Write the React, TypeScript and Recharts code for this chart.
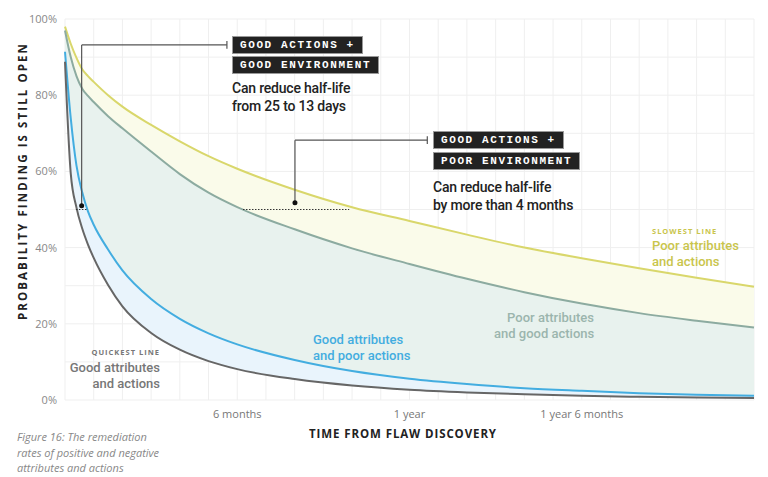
import React from "react";
import {
  ComposedChart, Area, Line, XAxis, YAxis, CartesianGrid,
  ReferenceLine, ReferenceDot,
} from "recharts";

// months since discovery
const MONTHS = [0, 0.2, 0.4, 0.6, 0.8, 1, 1.5, 2, 3, 4, 5, 6, 8, 10, 12, 14, 16, 18, 20, 22, 24];
// % of findings still open
const POOR_ALL  = [98, 93.5, 89.8, 86.8, 85, 83.5, 80, 77, 72.2, 67.9, 64, 60.7, 55.2, 50.6, 47, 43.4, 40, 37.2, 34.6, 32.1, 29.7];
const POOR_GOOD = [97, 90, 85, 81.7, 79.8, 78.2, 74.5, 71.3, 65.2, 59.3, 54.4, 50.6, 44.8, 39.8, 35.7, 31.8, 28.3, 25.3, 22.8, 20.8, 19];
const GOOD_POOR = [91.4, 74, 61.5, 54.5, 49.5, 46, 39.5, 34, 26.5, 21.3, 17.5, 14.6, 10.5, 7.6, 5.6, 4.2, 3.1, 2.4, 1.8, 1.4, 1.1];
const GOOD_ALL  = [88.8, 59.5, 50.5, 45, 40.8, 37.3, 30.2, 24.6, 17.6, 13.2, 10.2, 8.1, 5.5, 3.8, 2.7, 2, 1.5, 1.1, 0.85, 0.65, 0.5];

const X_TICKS = Array.from({ length: 25 }, (_, i) => i);
const X_LABELS: Record<number, string> = { 6: "6 months", 12: "1 year", 18: "1 year 6 months" };
const Y_TICKS = [0, 10, 20, 30, 40, 50, 60, 70, 80, 90, 100];

const YELLOW = "#d9d76b";
const GREEN  = "#8caba0";
const BLUE   = "#43ade0";
const GRAY   = "#666666";
const SANS   = "'Open Sans', 'Noto Sans', sans-serif";
const LABEL  = "Roboto, 'Open Sans', sans-serif";
const MONO   = "'Liberation Mono', 'DejaVu Sans Mono', monospace";

const data = MONTHS.map((m, i) => ({
  m,
  yellow: POOR_ALL[i],
  green: POOR_GOOD[i],
  blue: GOOD_POOR[i],
  gray: GOOD_ALL[i],
  bandY: [POOR_GOOD[i], POOR_ALL[i]],
  bandG: [GOOD_POOR[i], POOR_GOOD[i]],
  bandB: [GOOD_ALL[i], GOOD_POOR[i]],
}));

function Tag({ text, x, y }: { text: string; x: number; y: number }) {
  return (
    <div style={{
      position: "absolute", left: x, top: y, background: "#222", color: "#fff",
      fontFamily: MONO, fontWeight: 700, fontSize: 11, letterSpacing: 1.6,
      padding: "1px 7px", lineHeight: "14px", border: "1px solid #999", whiteSpace: "nowrap",
    }}>{text}</div>
  );
}

function Txt({ x, y, children, style }: { x: number; y: number; children: React.ReactNode; style?: React.CSSProperties }) {
  return (
    <div style={{ position: "absolute", left: x, top: y, fontFamily: LABEL, whiteSpace: "nowrap", ...style }}>
      {children}
    </div>
  );
}

const lbl: React.CSSProperties = { fontSize: 13, fontWeight: 500, lineHeight: "15.5px" };
const note: React.CSSProperties = { fontSize: 14, fontWeight: 500, lineHeight: "18px", letterSpacing: -0.2, color: "#222" };
const small: React.CSSProperties = { fontFamily: SANS, fontSize: 7.5, fontWeight: 700, letterSpacing: 1, lineHeight: "10px" };

export default function App() {
  return (
    <div style={{ position: "absolute", left: 0, top: 0, width: 768, height: 477, background: "#fff", overflow: "hidden" }}>
      <ComposedChart width={768} height={477} data={data}
        margin={{ top: 19, right: 14, bottom: 57, left: 0 }}>
        <CartesianGrid stroke="#efefef" strokeWidth={1} />
        <XAxis dataKey="m" type="number" domain={[0, 24]} ticks={X_TICKS} interval={0}
          tickLine={false} axisLine={false} height={20}
          tick={{ fontSize: 11, fill: "#777", fontFamily: SANS, dy: 2 }}
          tickFormatter={(v: number) => X_LABELS[v] ?? ""} />
        <YAxis type="number" domain={[0, 100]} ticks={Y_TICKS} interval={0} width={65}
          tickLine={false} axisLine={false}
          tick={{ fontSize: 11, fill: "#888", fontFamily: SANS }}
          tickFormatter={(v: number) => (v % 20 === 0 ? `${v}%` : "")} />
        <Area type="monotone" dataKey="bandY" stroke="none" fill="#fafbea" fillOpacity={1} isAnimationActive={false} />
        <Area type="monotone" dataKey="bandG" stroke="none" fill="#e8f2ee" fillOpacity={1} isAnimationActive={false} />
        <Area type="monotone" dataKey="bandB" stroke="none" fill="#e9f4fc" fillOpacity={1} isAnimationActive={false} />
        <Line type="monotone" dataKey="yellow" stroke={YELLOW} strokeWidth={2} dot={false} isAnimationActive={false} />
        <Line type="monotone" dataKey="green" stroke={GREEN} strokeWidth={2} dot={false} isAnimationActive={false} />
        <Line type="monotone" dataKey="blue" stroke={BLUE} strokeWidth={2} dot={false} isAnimationActive={false} />
        <Line type="monotone" dataKey="gray" stroke={GRAY} strokeWidth={2} dot={false} isAnimationActive={false} />

        {/* half-life markers */}
        <ReferenceLine segment={[{ x: 0.38, y: 50 }, { x: 0.8, y: 50 }]} stroke="#333" strokeDasharray="1.5 1.5" strokeWidth={1} />
        <ReferenceLine segment={[{ x: 6.2, y: 50 }, { x: 9.9, y: 50 }]} stroke="#333" strokeDasharray="1.5 1.5" strokeWidth={1} />

        {/* connectors */}
        <ReferenceLine segment={[{ x: 0.58, y: 51 }, { x: 0.58, y: 93.2 }]} stroke="#555" strokeWidth={1.2} />
        <ReferenceLine segment={[{ x: 0.58, y: 93.2 }, { x: 5.64, y: 93.2 }]} stroke="#555" strokeWidth={1.2} />
        <ReferenceLine segment={[{ x: 5.64, y: 92.2 }, { x: 5.64, y: 94.2 }]} stroke="#555" strokeWidth={1.2} />
        <ReferenceDot x={0.58} y={51} r={2.5} fill="#111" stroke="none" />
        <ReferenceLine segment={[{ x: 8.01, y: 51.8 }, { x: 8.01, y: 68.2 }]} stroke="#555" strokeWidth={1.2} />
        <ReferenceLine segment={[{ x: 8.01, y: 68.2 }, { x: 12.62, y: 68.2 }]} stroke="#555" strokeWidth={1.2} />
        <ReferenceLine segment={[{ x: 12.62, y: 67.2 }, { x: 12.62, y: 69.2 }]} stroke="#555" strokeWidth={1.2} />
        <ReferenceDot x={8.01} y={51.8} r={2.5} fill="#111" stroke="none" />
      </ComposedChart>

      {/* y axis title */}
      <div style={{
        position: "absolute", left: 22, top: 181, transform: "translate(-50%, -50%) rotate(-90deg)",
        fontFamily: SANS, fontWeight: 700, fontSize: 11.5, letterSpacing: 2.1, color: "#222", whiteSpace: "nowrap",
      }}>PROBABILITY FINDING IS STILL OPEN</div>

      {/* x axis title */}
      <div style={{
        position: "absolute", left: 403, top: 433, transform: "translate(-50%, -50%)",
        fontFamily: SANS, fontWeight: 700, fontSize: 11.5, letterSpacing: 0.9, color: "#222", whiteSpace: "nowrap",
      }}>TIME FROM FLAW DISCOVERY</div>

      {/* annotations */}
      <Tag text="GOOD ACTIONS +" x={232} y={36} />
      <Tag text="GOOD ENVIRONMENT" x={232} y={56} />
      <Txt x={232} y={79} style={note}>
        Can reduce half-life<br />from 25 to 13 days
      </Txt>
      <Tag text="GOOD ACTIONS +" x={433} y={131} />
      <Tag text="POOR ENVIRONMENT" x={433} y={152} />
      <Txt x={433} y={178} style={note}>
        Can reduce half-life<br />by more than 4 months
      </Txt>

      {/* series labels */}
      <Txt x={60} y={347} style={{ width: 100, textAlign: "right" }}>
        <div style={{ ...small, color: "#777" }}>QUICKEST LINE</div>
        <div style={{ ...lbl, color: "#777", marginTop: 3 }}>Good attributes<br />and actions</div>
      </Txt>
      <Txt x={313} y={332} style={{ ...lbl, color: BLUE }}>
        Good attributes<br />and poor actions
      </Txt>
      <Txt x={494} y={310} style={{ ...lbl, color: "#9bb5ad", width: 100, textAlign: "right" }}>
        Poor attributes<br />and good actions
      </Txt>
      <Txt x={652} y={226} style={{ color: "#c9c54c" }}>
        <div style={small}>SLOWEST LINE</div>
        <div style={{ ...lbl, marginTop: 2 }}>Poor attributes<br />and actions</div>
      </Txt>

      {/* caption */}
      <Txt x={17} y={429} style={{ fontFamily: SANS, fontSize: 11, fontStyle: "italic", color: "#888", lineHeight: "15.5px" }}>
        Figure 16: The remediation<br />rates of positive and negative<br />attributes and actions
      </Txt>
    </div>
  );
}
